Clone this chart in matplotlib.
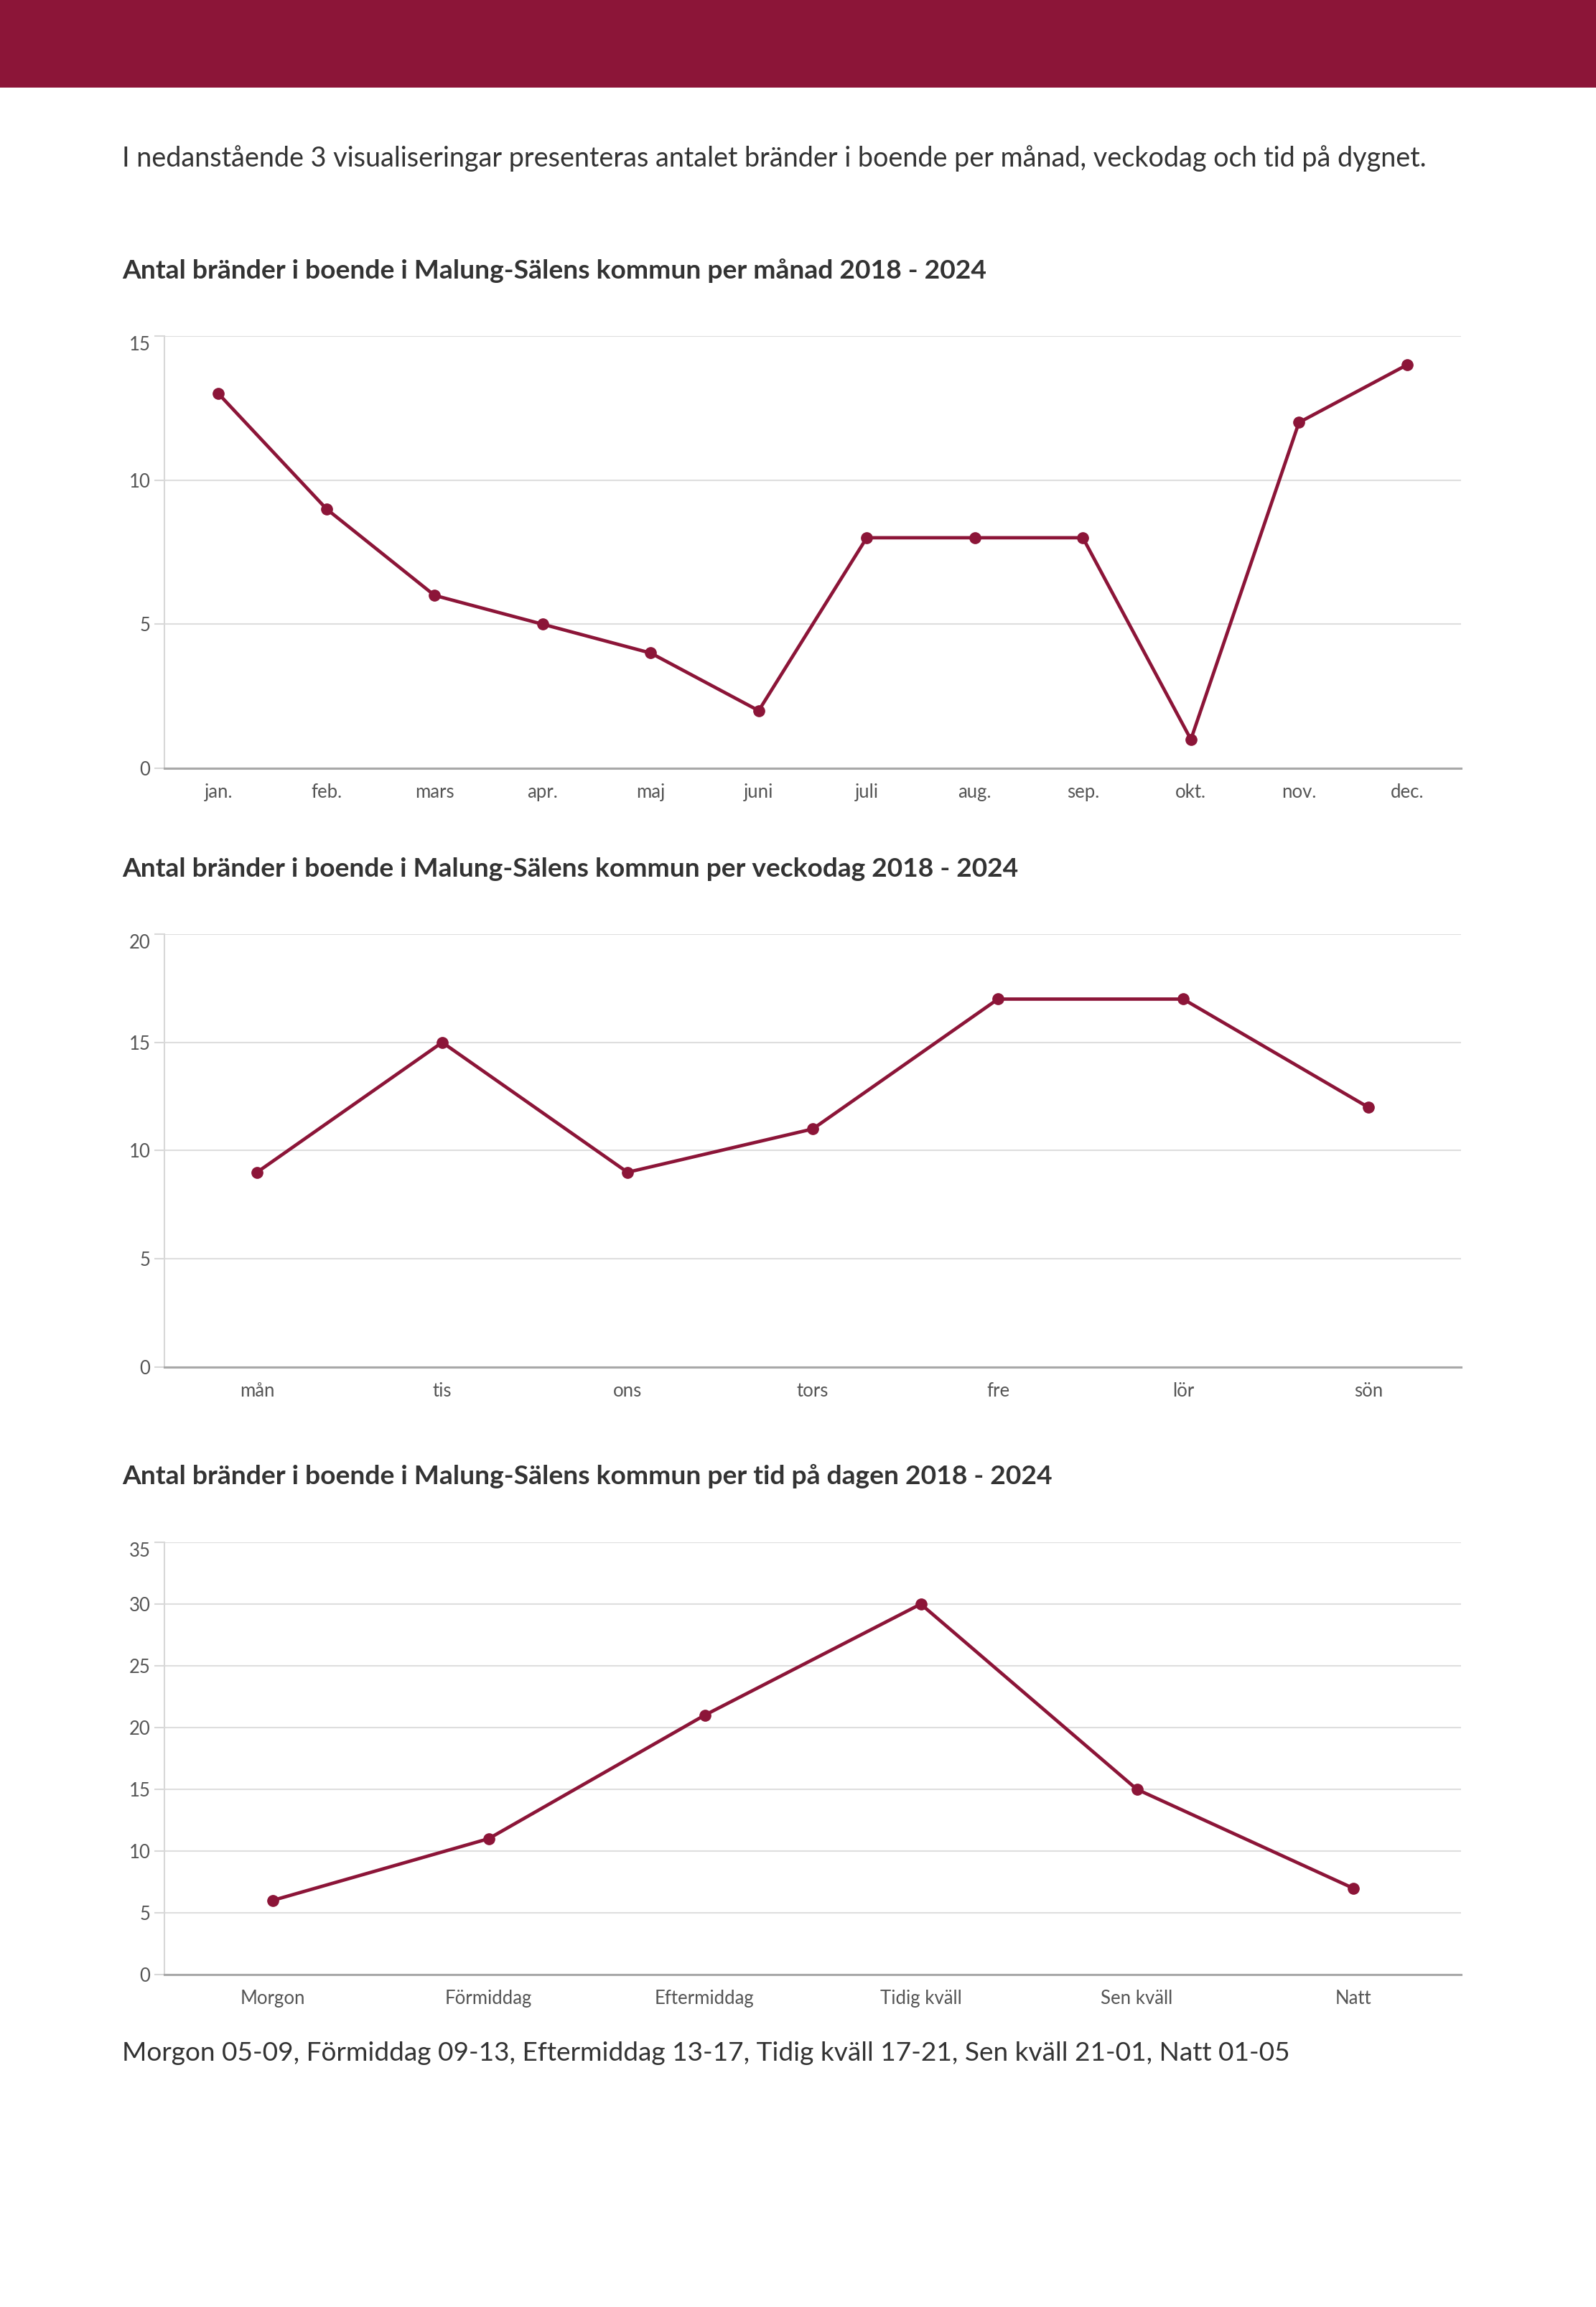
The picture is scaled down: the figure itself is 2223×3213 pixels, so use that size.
import matplotlib
matplotlib.use('Agg')
import matplotlib.pyplot as plt
from matplotlib.patches import Rectangle

# ---------------- data ----------------
months = ['jan.', 'feb.', 'mars', 'apr.', 'maj', 'juni', 'juli', 'aug.', 'sep.', 'okt.', 'nov.', 'dec.']
month_values = [13, 9, 6, 5, 4, 2, 8, 8, 8, 1, 12, 14]
month_yticks = [0, 5, 10, 15]

weekdays = ['mån', 'tis', 'ons', 'tors', 'fre', 'lör', 'sön']
weekday_values = [9, 15, 9, 11, 17, 17, 12]
weekday_yticks = [0, 5, 10, 15, 20]

dayparts = ['Morgon', 'Förmiddag', 'Eftermiddag', 'Tidig kväll', 'Sen kväll', 'Natt']
daypart_values = [6, 11, 21, 30, 15, 7]
daypart_yticks = [0, 5, 10, 15, 20, 25, 30, 35]

intro_text = 'I nedanstående 3 visualiseringar presenteras antalet bränder i boende per månad, veckodag och tid på dygnet.'
title_month = 'Antal bränder i boende i Malung-Sälens kommun per månad 2018 - 2024'
title_weekday = 'Antal bränder i boende i Malung-Sälens kommun per veckodag 2018 - 2024'
title_daypart = 'Antal bränder i boende i Malung-Sälens kommun per tid på dagen 2018 - 2024'
footnote = 'Morgon 05-09, Förmiddag 09-13, Eftermiddag 13-17, Tidig kväll 17-21, Sen kväll 21-01, Natt 01-05'

# ---------------- style ----------------
plt.rcParams['font.family'] = ['Lato', 'DejaVu Sans']
W, H, DPI = 2223, 3213, 100
RED = '#8C1538'
TXT = '#333333'
TICK = '#555555'

fig = plt.figure(figsize=(W / DPI, H / DPI), dpi=DPI)
fig.patch.set_facecolor('white')

# banner
fig.patches.append(Rectangle((0, 1 - 122 / H), 1, 122 / H, transform=fig.transFigure,
                             facecolor=RED, edgecolor='none', zorder=0))

renderer = fig.canvas.get_renderer()


def fit_text(x_px, base_px, s, target_w, fs0, **kw):
    t = fig.text(x_px / W, 1 - base_px / H, s, fontsize=fs0, va='baseline', ha='left',
                 color=TXT, **kw)
    w = t.get_window_extent(renderer).width
    t.set_fontsize(fs0 * target_w / w)
    return t


fit_text(170, 232, intro_text, 1815, 24)
fit_text(170, 388, title_month, 1205, 24, fontweight='bold')
fit_text(170, 1221, title_weekday, 1250, 24, fontweight='bold')
fit_text(170, 2067, title_daypart, 1298, 24, fontweight='bold')
fit_text(170, 2870, footnote, 1629, 25)


def make_chart(left, top, right, bottom, cats, vals, yticks):
    ax = fig.add_axes([left / W, 1 - bottom / H, (right - left) / W, (bottom - top) / H])
    xs = list(range(len(cats)))
    ax.plot(xs, vals, color=RED, lw=3.4, marker='o', ms=11, solid_joinstyle='round',
            zorder=3, clip_on=False)
    ax.set_xlim(-0.5, len(cats) - 0.5)
    ax.set_ylim(yticks[0], yticks[-1])
    ax.set_yticks(yticks)
    ax.set_xticks(xs)
    ax.set_xticklabels(cats)
    ax.grid(axis='y', color='#dedede', lw=1.5)
    ax.grid(axis='x', visible=False)
    ax.set_axisbelow(True)
    for s in ['top', 'right']:
        ax.spines[s].set_visible(False)
    ax.spines['left'].set_color('#d8d8d8')
    ax.spines['left'].set_linewidth(1.5)
    ax.spines['bottom'].set_color('#a8a8a8')
    ax.spines['bottom'].set_linewidth(2.2)
    ax.tick_params(axis='y', length=10, width=1.5, color='#d8d8d8', labelsize=18.5,
                   labelcolor=TICK, pad=4)
    ax.tick_params(axis='x', length=0, labelsize=18.5, labelcolor=TICK, pad=15)
    ax.yaxis.get_major_ticks()[-1].label1.set_verticalalignment('top')
    return ax


make_chart(229, 468, 2035, 1070, months, month_values, month_yticks)
make_chart(229, 1301, 2035, 1904, weekdays, weekday_values, weekday_yticks)
make_chart(229, 2148, 2035, 2750, dayparts, daypart_values, daypart_yticks)

fig.savefig('out.png', dpi=DPI, facecolor='white')
